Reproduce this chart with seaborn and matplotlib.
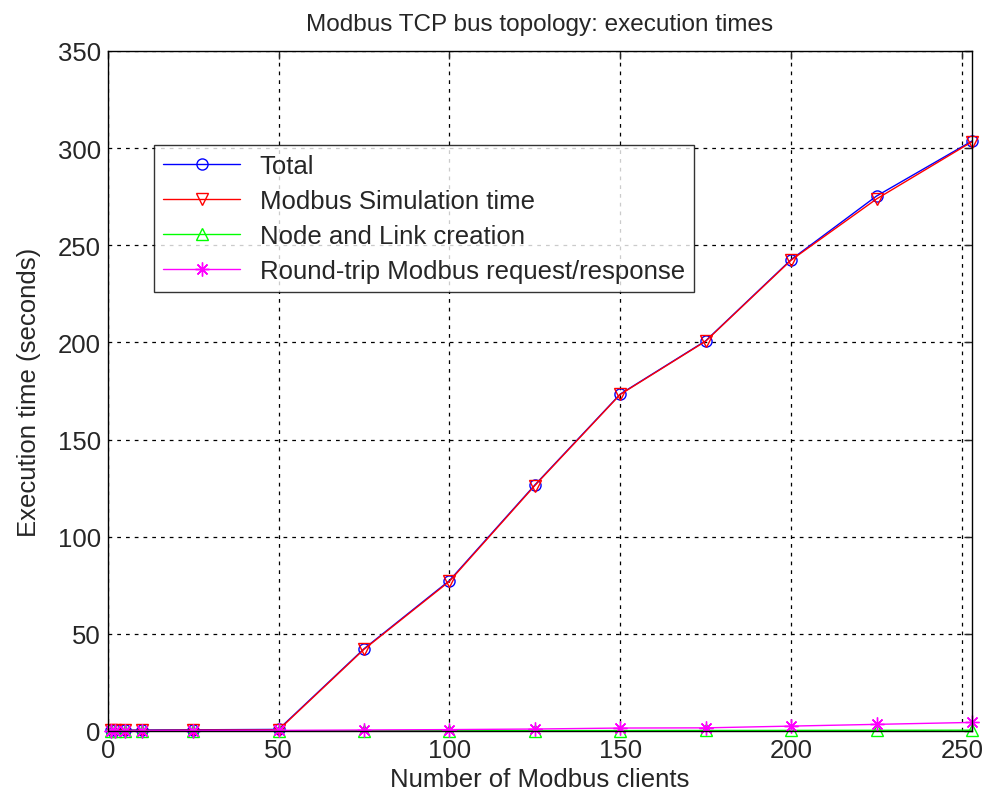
import pandas as pd
import matplotlib
matplotlib.use("Agg")
import matplotlib.pyplot as plt
import seaborn as sns

clients = [1, 2, 5, 10, 25, 50, 75, 100, 125, 150, 175, 200, 225, 253]
total = [0.4, 0.4, 0.4, 0.5, 0.6, 0.8, 42.3, 77.4, 126.6, 173.4, 200.8, 242.6, 275.3, 303.7]
sim_time = [0.3, 0.3, 0.3, 0.3, 0.4, 0.5, 42.0, 77.0, 126.3, 173.2, 200.6, 242.3, 273.8, 303.3]
node_link = [0.05, 0.05, 0.05, 0.06, 0.08, 0.1, 0.12, 0.15, 0.18, 0.2, 0.25, 0.3, 0.35, 0.4]
round_trip = [0.02, 0.03, 0.05, 0.1, 0.2, 0.3, 0.5, 0.7, 1.0, 1.5, 1.6, 2.5, 3.4, 4.4]

df = pd.DataFrame({"clients": clients, "Total": total, "Modbus Simulation time": sim_time,
                   "Node and Link creation": node_link,
                   "Round-trip Modbus request/response": round_trip})

sns.set_style("white")
plt.rcParams['font.family'] = ['Liberation Sans', 'DejaVu Sans']

fig = plt.figure(figsize=(9.88, 8.04), dpi=100)
ax = fig.add_axes([0.109, 0.0896, 0.875, 0.8458])

series = [
    ("Total", "#0000ff", "o", 8),
    ("Modbus Simulation time", "#ff0000", "v", 8),
    ("Node and Link creation", "#00ff00", "^", 8),
    ("Round-trip Modbus request/response", "#ff00ff", (8, 2, 0), 10),
]
for name, col, mk, ms in series:
    sns.lineplot(data=df, x="clients", y=name, ax=ax, color=col, marker=mk,
                 markersize=ms, markerfacecolor="none", markeredgecolor=col,
                 markeredgewidth=1.0, linewidth=1.0, label=name, clip_on=False)

ax.set_xlim(0, 253)
ax.set_ylim(0, 350)
ax.set_xticks([0, 50, 100, 150, 200, 250])
ax.set_yticks(range(0, 351, 50))
ax.grid(True, color="black", linestyle=(0, (3, 4)), linewidth=0.9)
ax.tick_params(direction="in", top=True, right=True, length=6, labelsize=18.5, width=1, pad=5)
for sp in ax.spines.values():
    sp.set_visible(True)
    sp.set_color("black")
    sp.set_linewidth(1.0)

ax.set_title("Modbus TCP bus topology: execution times", fontsize=17.5, pad=15)
ax.set_xlabel("Number of Modbus clients", fontsize=18.5, labelpad=4)
ax.set_ylabel("Execution time (seconds)", fontsize=18.5, labelpad=12)

leg = ax.legend(loc="upper left", bbox_to_anchor=(0.054, 0.862), fontsize=18.5,
                frameon=True, fancybox=False, edgecolor="black", handlelength=3.0,
                borderpad=0.35, labelspacing=0.43, handletextpad=0.75, borderaxespad=0)
leg.get_frame().set_linewidth(1.0)

fig.savefig("out.png", dpi=100)
